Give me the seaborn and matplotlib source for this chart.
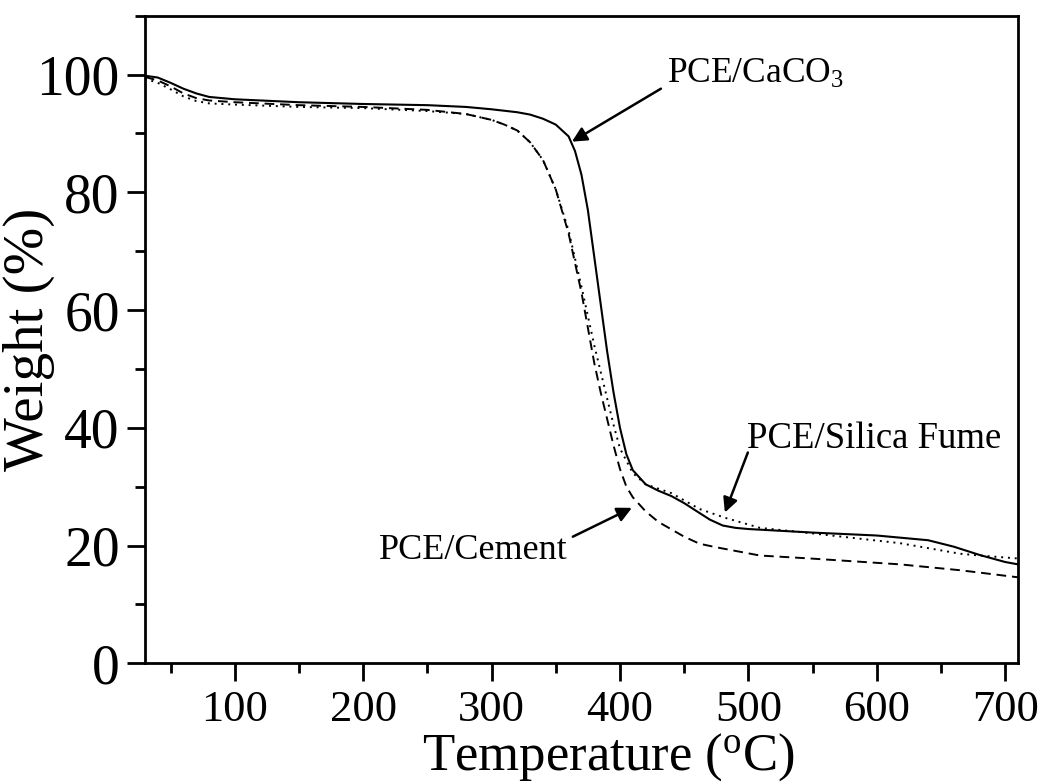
import matplotlib
matplotlib.use("Agg")
import matplotlib.pyplot as plt
import seaborn as sns
import pandas as pd
from matplotlib.ticker import MultipleLocator

sns.set_style("ticks")
plt.rcParams['font.family'] = ['Liberation Serif', 'DejaVu Serif']
plt.rcParams['mathtext.fontset'] = 'custom'
plt.rcParams['mathtext.rm'] = 'Liberation Serif'
for k in ['text.color', 'axes.labelcolor', 'xtick.color', 'ytick.color', 'axes.edgecolor']:
    plt.rcParams[k] = 'black'

# PCE/CaCO3 (solid)
temp_caco3 = [30, 40, 50, 60, 70, 80, 100, 150, 200, 250, 280, 300, 320, 330, 340, 350, 360,
              365, 370, 375, 380, 385, 390, 395, 400, 405, 410, 420, 430, 440, 450, 460, 470,
              480, 490, 500, 550, 600, 640, 660, 680, 700, 710]
w_caco3 = [99.8, 99.5, 98.6, 97.6, 96.8, 96.2, 95.8, 95.3, 95.0, 94.8, 94.5, 94.1, 93.6, 93.2,
           92.5, 91.5, 89.5, 87.0, 83.0, 77.0, 69.0, 61.0, 53.0, 46.0, 40.0, 35.5, 32.8, 30.4,
           29.3, 28.4, 27.2, 25.8, 24.4, 23.4, 23.0, 22.8, 22.2, 21.7, 20.9, 19.8, 18.4, 17.2, 16.8]

# PCE/Cement (dashed)
temp_cement = [30, 40, 50, 60, 70, 80, 100, 150, 200, 250, 280, 300, 310, 320, 330, 340, 350,
               360, 370, 375, 380, 385, 390, 395, 400, 405, 410, 420, 430, 450, 462, 475, 509,
               548, 618, 665, 710]
w_cement = [99.6, 99.0, 98.0, 96.8, 96.0, 95.6, 95.3, 94.8, 94.5, 94.0, 93.3, 92.3, 91.5, 90.5,
            88.5, 85.5, 80.5, 73.0, 63.0, 57.0, 51.0, 46.0, 41.5, 37.0, 33.0, 30.0, 28.2, 25.8,
            24.0, 21.5, 20.3, 19.7, 18.3, 17.8, 16.8, 15.8, 14.6]

# PCE/Silica Fume (dotted)
temp_silica = [30, 40, 50, 60, 70, 80, 100, 150, 200, 250, 280, 300, 310, 320, 330, 340, 350,
               360, 370, 380, 390, 395, 400, 410, 420, 440, 462, 482, 509, 540, 618, 665, 680, 710]
w_silica = [99.3, 98.6, 97.5, 96.3, 95.5, 95.1, 94.9, 94.5, 94.3, 93.8, 93.3, 92.3, 91.5, 90.5,
            88.5, 85.5, 80.5, 73.5, 64.0, 54.0, 45.0, 40.5, 36.5, 32.3, 30.4, 28.9, 26.2, 24.7,
            23.0, 22.3, 20.4, 18.6, 18.3, 17.8]

df = pd.concat([
    pd.DataFrame({"T": temp_caco3, "W": w_caco3, "s": "PCE/CaCO3"}),
    pd.DataFrame({"T": temp_cement, "W": w_cement, "s": "PCE/Cement"}),
    pd.DataFrame({"T": temp_silica, "W": w_silica, "s": "PCE/Silica Fume"}),
])

fig = plt.figure(figsize=(10.42, 7.84), dpi=100)
ax = fig.add_axes([0.139, 0.154, 0.838, 0.826])

styles = {"PCE/CaCO3": (None, 1.5), "PCE/Cement": ((5, 3), 1.4), "PCE/Silica Fume": ((1, 2.5), 1.4)}
for name, sub in df.groupby("s", sort=False):
    ls = '-' if styles[name][0] is None else (0, styles[name][0])
    sns.lineplot(data=sub, x="T", y="W", ax=ax, color="black", linewidth=styles[name][1],
                 linestyle=ls, sort=False, legend=False)

ax.set_xlim(30, 710)
ax.set_ylim(0, 110)
ax.xaxis.set_major_locator(MultipleLocator(100))
ax.xaxis.set_minor_locator(MultipleLocator(50))
ax.set_yticks([0, 20, 40, 60, 80, 100])
ax.yaxis.set_minor_locator(MultipleLocator(10))
ax.tick_params(axis='both', which='major', direction='out', length=13, width=2, color='black')
ax.tick_params(axis='both', which='minor', direction='out', length=7, width=2, color='black')
ax.tick_params(axis='x', labelsize=32, pad=6)
ax.tick_params(axis='y', labelsize=40, pad=5)
ax.tick_params(top=False, right=False, which='both')
for sp in ax.spines.values():
    sp.set_linewidth(2)
    sp.set_color('black')
    sp.set_visible(True)

ax.set_xlabel("Temperature ($\\mathregular{^{o}}$C)", fontsize=38)
ax.xaxis.set_label_coords(0.531, -0.105)
ax.set_ylabel("Weight (%)", fontsize=41)
ax.yaxis.set_label_coords(-0.103, 0.5)

arrow = dict(arrowstyle='-|>', color='black', lw=1.8, mutation_scale=22, shrinkA=0, shrinkB=0)
ax.annotate("", xy=(362.6, 88.6), xytext=(431.9, 97.6), arrowprops=arrow)
ax.text(437, 100.0, "PCE/CaCO$\\mathregular{_3}$", fontsize=25.5, ha='left', va='center')
ax.annotate("", xy=(481.7, 25.6), xytext=(499.6, 35.8), arrowprops=arrow)
ax.text(499, 38.2, "PCE/Silica Fume", fontsize=26.5, ha='left', va='center')
ax.annotate("", xy=(409.3, 26.4), xytext=(363.3, 21.5), arrowprops=arrow)
ax.text(359, 19.2, "PCE/Cement", fontsize=26, ha='right', va='center')

fig.savefig("out.png", dpi=100)
